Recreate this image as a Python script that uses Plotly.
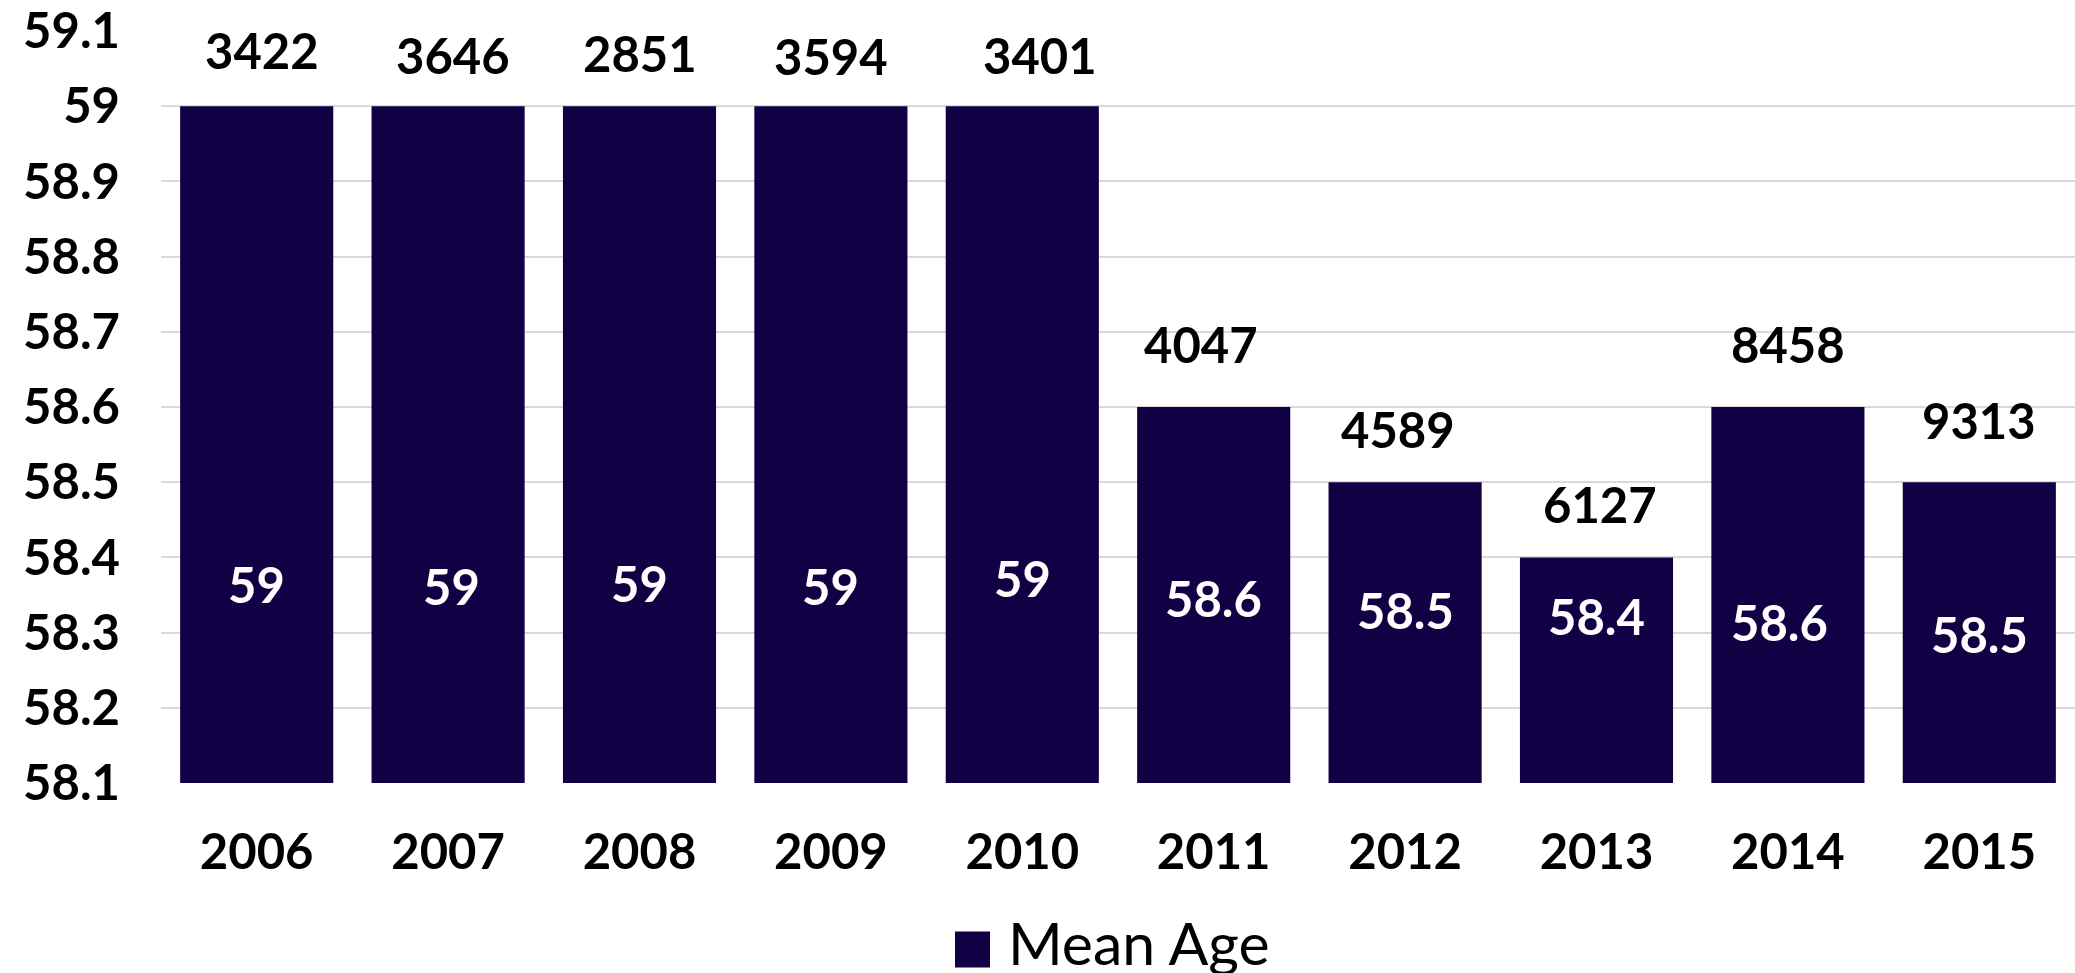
import plotly.graph_objects as go

# ---- data ----
years = ["2006", "2007", "2008", "2009", "2010", "2011", "2012", "2013", "2014", "2015"]
mean_age = [59, 59, 59, 59, 59, 58.6, 58.5, 58.4, 58.6, 58.5]
counts = [3422, 3646, 2851, 3594, 3401, 4047, 4589, 6127, 8458, 9313]
y_ticks = [58.1, 58.2, 58.3, 58.4, 58.5, 58.6, 58.7, 58.8, 58.9, 59, 59.1]
series_name = "Mean Age"

# ---- layout / style ----
W, H = 2075, 973
ML, MR, MT, MB = 161, 0, 29, 190
BAR_COLOR = "#110043"
FONT = "Lato"
FS = 49

count_dy = [56, 51, 53, 50, 51, 63, 53, 53, 63, 62]
count_dx = [5, 5, 0, 0, 18, -13, -7, 3, 0, 0]
inner_dy = [199, 197, 200, 197, 205, 185, 173, 167, 161, 149]
inner_dx = [0, 3, 0, 0, 0, 0, 0, 0, -8, 0]

fig = go.Figure()
fig.add_trace(go.Bar(
    x=years, y=mean_age, name=series_name,
    marker=dict(color=BAR_COLOR, line=dict(width=0)),
    showlegend=False, hoverinfo="x+y",
))

ann = []
for i, yr in enumerate(years):
    # category axis: annotation x given as the category index
    ann.append(dict(
        x=i, y=mean_age[i], xref="x", yref="y", text=str(counts[i]),
        showarrow=False, yanchor="middle", xanchor="center",
        yshift=count_dy[i], xshift=count_dx[i],
        font=dict(family=FONT, size=FS, color="#000000", weight=700),
    ))
    ann.append(dict(
        x=i, y=y_ticks[0], xref="x", yref="y", text=f"{mean_age[i]:g}",
        showarrow=False, yanchor="middle", xanchor="center",
        yshift=inner_dy[i], xshift=inner_dx[i],
        font=dict(family=FONT, size=FS, color="#ffffff", weight=700),
    ))

# manual legend (large square symbol)
pw = W - ML - MR
ph = H - MT - MB
def px_x(p):
    return (p - ML) / pw
def px_y(p):
    return (H - MB - p) / ph

ann.append(dict(
    x=px_x(1006), y=px_y(943), xref="paper", yref="paper", text=series_name,
    showarrow=False, xanchor="left", yanchor="middle",
    font=dict(family=FONT, size=59, color="#000000"),
))
shapes = [dict(
    type="rect", xref="paper", yref="paper",
    x0=px_x(955), x1=px_x(990), y0=px_y(968), y1=px_y(932),
    fillcolor=BAR_COLOR, line=dict(width=0),
)]

fig.update_layout(
    width=W, height=H,
    margin=dict(l=ML, r=MR, t=MT, b=MB, pad=0),
    paper_bgcolor="#ffffff", plot_bgcolor="#ffffff",
    bargap=0.2,
    annotations=ann, shapes=shapes,
    font=dict(family=FONT, size=FS, color="#000000"),
)
fig.update_yaxes(
    range=[58.1, 59.1], tickvals=y_ticks, ticktext=[f"{v:g}" for v in y_ticks],
    showgrid=True, gridcolor="#d9d9d9", gridwidth=2,
    zeroline=False, showline=False, ticks="",
    ticklabelstandoff=40, ticklabeloverflow="allow",
    tickfont=dict(family=FONT, size=FS, color="#000000", weight=700),
)
fig.update_xaxes(
    type="category", range=[-0.5, len(years) - 0.5],
    showgrid=False, showline=False, ticks="", zeroline=False,
    ticklabelstandoff=36,
    tickfont=dict(family=FONT, size=FS, color="#000000", weight=700),
)

fig.write_html(
    "out.html",
    config={"displayModeBar": False},
    post_script="document.body.style.margin='0';document.body.style.overflow='hidden';",
)
